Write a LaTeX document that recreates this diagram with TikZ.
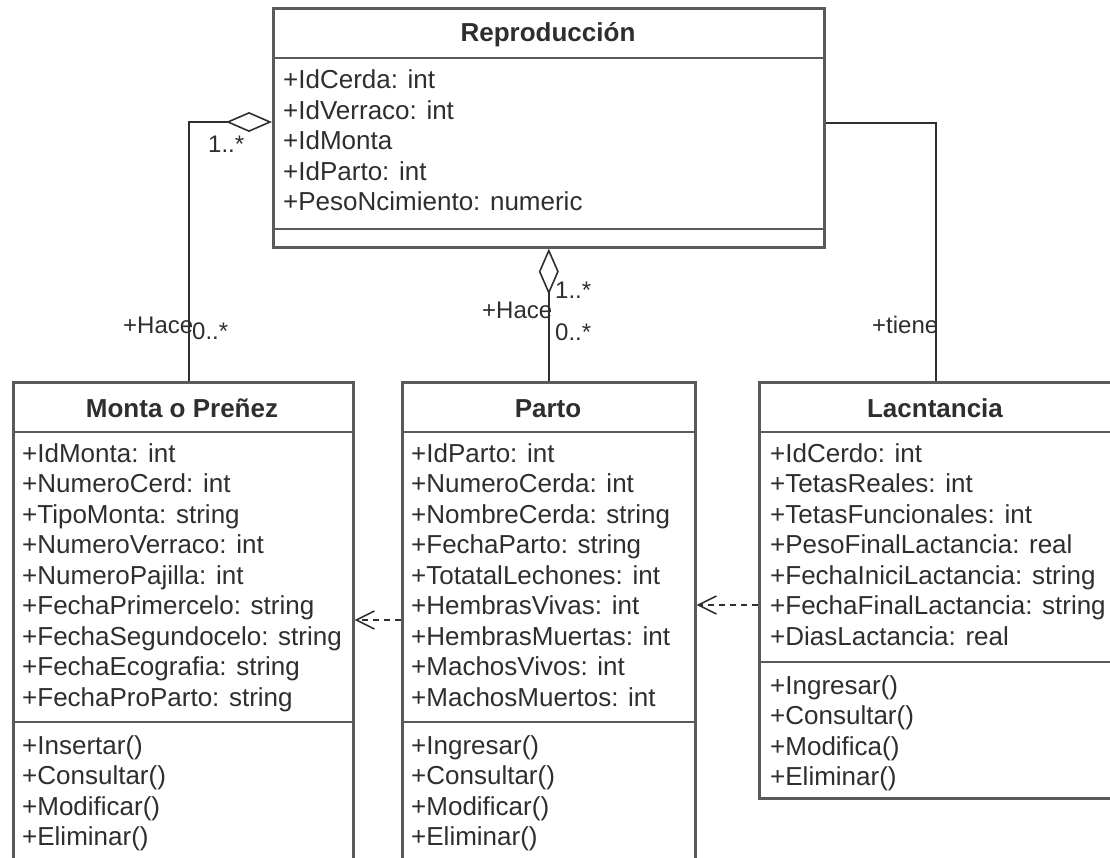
\documentclass[tikz,border=0pt]{standalone}
\usepackage{fontspec}
\setmainfont{Liberation Sans}
\usetikzlibrary{arrows.meta}
\definecolor{edge}{HTML}{5A5A5A}
\definecolor{ink}{HTML}{2E2E2E}
\tikzset{
  classbox/.style={draw=edge, line width=2.6pt, fill=white, rectangle, inner sep=0pt, anchor=north west},
  sepline/.style={draw=edge, line width=2.6pt},
  title/.style={anchor=base, inner sep=0pt, text=ink, font=\fontsize{26}{31}\selectfont\bfseries},
  member/.style={anchor=base west, inner sep=0pt, text=ink, font=\fontsize{26}{31}\selectfont},
  role/.style={anchor=base west, inner sep=0pt, text=ink, font=\fontsize{24}{29}\selectfont},
  assoc/.style={draw=ink, line width=1.8pt},
  aggr/.style={assoc, -{Diamond[open, length=46pt, width=20pt, line width=1.6pt]}},
  depend/.style={draw=ink, line width=1.8pt, dash pattern=on 6pt off 5pt,
    -{Straight Barb[length=18pt, width=18pt, line width=1.6pt]}}
}
\begin{document}
\begin{tikzpicture}[x=1pt, y=-1pt]
\useasboundingbox (0,0) rectangle (1110,858);

% class outlines
\node[classbox, minimum width=551pt, minimum height=239pt] (repro) at (272,7) {};
\node[classbox, minimum width=340pt, minimum height=480pt] (monta) at (12,381) {};
\node[classbox, minimum width=293pt, minimum height=480pt] (parto) at (401,381) {};
\node[classbox, minimum width=354pt, minimum height=416pt] (lact) at (758,381) {};

% compartment separators
\draw[sepline] (272,58) -- (823,58);
\draw[sepline] (272,229) -- (823,229);
\draw[sepline] (12,432) -- (352,432);
\draw[sepline] (12,722) -- (352,722);
\draw[sepline] (401,432) -- (694,432);
\draw[sepline] (401,722) -- (694,722);
\draw[sepline] (758,432) -- (1112,432);
\draw[sepline] (758,662) -- (1112,662);

% titles
\node[title] (reproT) at (548,42) {Reproducción};
\node[title] (montaT) at (182,417) {Monta o Preñez};
\node[title] (partoT) at (548,417) {Parto};
\node[title] (lactT) at (935,417) {Lacntancia};

% Reproducción members
\foreach \t [count=\i from 0] in {+IdCerda: int, +IdVerraco: int, +IdMonta, +IdParto: int, +PesoNcimiento: numeric}
  \node[member] (ra\i) at (283,89+30.5*\i) {\t};

% Monta o Preñez members
\foreach \t [count=\i from 0] in {+IdMonta: int, +NumeroCerd: int, +TipoMonta: string, +NumeroVerraco: int, +NumeroPajilla: int, +FechaPrimercelo: string, +FechaSegundocelo: string, +FechaEcografia: string, +FechaProParto: string}
  \node[member] (ma\i) at (22,462+30.5*\i) {\t};
\foreach \t [count=\i from 0] in {+Insertar(), +Consultar(), +Modificar(), +Eliminar()}
  \node[member] (mm\i) at (22,754+30.5*\i) {\t};

% Parto members
\foreach \t [count=\i from 0] in {+IdParto: int, +NumeroCerda: int, +NombreCerda: string, +FechaParto: string, +TotatalLechones: int, +HembrasVivas: int, +HembrasMuertas: int, +MachosVivos: int, +MachosMuertos: int}
  \node[member] (pa\i) at (411,462+30.5*\i) {\t};
\foreach \t [count=\i from 0] in {+Ingresar(), +Consultar(), +Modificar(), +Eliminar()}
  \node[member] (pm\i) at (411,754+30.5*\i) {\t};

% Lacntancia members
\foreach \t [count=\i from 0] in {+IdCerdo: int, +TetasReales: int, +TetasFuncionales: int, +PesoFinalLactancia: real, +FechaIniciLactancia: string, +FechaFinalLactancia: string, +DiasLactancia: real}
  \node[member] (la\i) at (770,462+30.5*\i) {\t};
\foreach \t [count=\i from 0] in {+Ingresar(), +Consultar(), +Modifica(), +Eliminar()}
  \node[member] (lm\i) at (770,694+30.5*\i) {\t};

% associations
\draw[aggr] ([xshift=6pt]monta.north) |- (repro.west |- 0,122);
\draw[aggr] (parto.north) -- (repro.south);
\draw[assoc] (lact.north) |- (repro.east |- 0,123);

% association ends
\node[role] (m1) at (208,153) {1..*};
\node[role] (h1) at (123,334) {+Hace};
\node[role] (z1) at (192,339) {0..*};
\node[role] (m2) at (555,299) {1..*};
\node[role] (h2) at (482,319) {+Hace};
\node[role] (z2) at (555,340) {0..*};
\node[role] (t3) at (872,334) {+tiene};

% dependencies
\draw[depend] (parto.west |- 0,620) -- (monta.east |- 0,620);
\draw[depend] (lact.west |- 0,605) -- (parto.east |- 0,605);
\end{tikzpicture}
\end{document}
